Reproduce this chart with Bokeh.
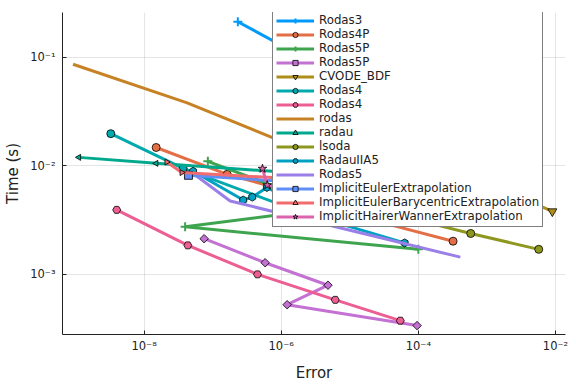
import math
from bokeh.plotting import figure
from bokeh.models import Range1d, FixedTicker, Legend, LegendItem, CustomJSTickFormatter
from bokeh.embed import file_html
from bokeh.resources import INLINE

FONT = "DejaVu Sans"

# ---- data (error, time) ----
rodas3_err = [2.33e-7, 1.89e-6, 1.99e-5, 2.09e-4]
rodas3_time = [0.213, 0.104, 0.045, 0.0194]

rodas4p_err = [1.50e-8, 1.63e-7, 2.65e-6, 2.36e-5, 3.21e-4]
rodas4p_time = [0.01476, 0.00836, 0.00515, 0.00311, 0.00202]

rodas5p_a_err = [8.51e-8, 5.56e-6, 3.97e-8, 1.0e-4]
rodas5p_a_time = [0.0110, 0.00409, 0.00274, 0.00170]

rodas5p_b_err = [7.52e-8, 5.83e-7, 4.81e-6, 1.22e-6, 9.58e-5]
rodas5p_b_time = [0.00213, 0.00128, 0.000794, 0.000525, 0.000337]

cvode_err = [1.07e-4, 1.12e-3, 9.0e-3]
cvode_time = [0.01416, 0.00678, 0.00380]

rodas4_a_err = [3.27e-9, 3.71e-8, 1.89e-6, 5.46e-5]
rodas4_a_time = [0.0198, 0.00948, 0.00376, 0.00311]

rodas4_b_err = [3.99e-9, 4.35e-8, 4.51e-7, 6.14e-6, 5.46e-5]
rodas4_b_time = [0.00393, 0.00185, 0.00100, 0.000582, 0.000374]

rodas_err = [9.2e-10, 4.25e-8, 1.02e-5]
rodas_time = [0.0863, 0.0380, 0.00929]

radau_err = [1.12e-9, 1.50e-8, 5.19e-6]
radau_time = [0.01197, 0.01054, 0.00818]

lsoda_err = [5.19e-6, 1.07e-4, 5.81e-4, 5.70e-3]
lsoda_time = [0.00610, 0.00311, 0.00238, 0.00170]

radauiia5_err = [5.19e-8, 2.79e-7, 3.78e-7, 6.18e-7, 5.19e-6, 6.31e-5]
radauiia5_time = [0.00891, 0.00484, 0.00515, 0.00632, 0.00311, 0.00195]

rodas5_err = [4.70e-8, 1.80e-7, 4.10e-4]
rodas5_time = [0.00891, 0.00474, 0.00144]

iee_err = [4.44e-8, 5.19e-6]
iee_time = [0.00818, 0.00678]

iebe_err = [2.14e-8, 3.55e-8, 7.26e-6]
iebe_time = [0.01084, 0.00867, 0.00721]

ihwe_err = [5.33e-7, 6.25e-7, 5.19e-6]
ihwe_time = [0.00942, 0.00664, 0.00494]

names = ["Rodas3", "Rodas4P", "Rodas5P", "Rodas5P", "CVODE_BDF", "Rodas4", "Rodas4",
         "rodas", "radau", "lsoda", "RadauIIA5", "Rodas5",
         "ImplicitEulerExtrapolation", "ImplicitEulerBarycentricExtrapolation",
         "ImplicitHairerWannerExtrapolation"]

errors = [rodas3_err, rodas4p_err, rodas5p_a_err, rodas5p_b_err, cvode_err, rodas4_a_err,
          rodas4_b_err, rodas_err, radau_err, lsoda_err, radauiia5_err, rodas5_err,
          iee_err, iebe_err, ihwe_err]
times = [rodas3_time, rodas4p_time, rodas5p_a_time, rodas5p_b_time, cvode_time, rodas4_a_time,
         rodas4_b_time, rodas_time, radau_time, lsoda_time, radauiia5_time, rodas5_time,
         iee_time, iebe_time, ihwe_time]

xticks = [1e-8, 1e-6, 1e-4, 1e-2]
xtick_labels = ["10\u207b\u2078", "10\u207b\u2076", "10\u207b\u2074", "10\u207b\u00b2"]
yticks = [1e-3, 1e-2, 1e-1]
ytick_labels = ["10\u207b\u00b3", "10\u207b\u00b2", "10\u207b\u00b9"]

# ---- styles ----
colors = ["#009AFA", "#E36F47", "#3EA44E", "#C371D2", "#AC8E18", "#00A9AD", "#ED5E93",
          "#C68225", "#00A98D", "#8E971E", "#00A2C3", "#9B7FE9", "#618DF6", "#F16C6F",
          "#DC63AD"]
# (marker, size, angle)
markers = [("cross", 9, 0), ("circle", 8, 0), ("cross", 9, 0), ("square", 6, math.pi / 4),
           ("inverted_triangle", 9, 0), ("circle", 8, 0), ("hex", 8, 0), (None, 0, 0),
           ("triangle", 6, math.pi / 2), ("circle", 8, 0), ("hex", 8, math.pi / 2), (None, 0, 0),
           ("square", 8, 0), ("triangle", 6, -math.pi / 2), ("star", 9, 0)]

p = figure(width=576, height=384, x_axis_type="log", y_axis_type="log",
           x_range=Range1d(6.46e-10, 1.40e-2), y_range=Range1d(2.79e-4, 0.259),
           output_backend="svg", toolbar_location=None,
           min_border_left=62, min_border_right=11, min_border_top=12, min_border_bottom=47,
           x_axis_label="Error", y_axis_label="Time (s)")
p.outline_line_color = None
p.background_fill_color = "white"

def fmt(tvals, tlabels):
    return CustomJSTickFormatter(args=dict(tvals=tvals, tlabels=tlabels), code="""
        for (let i = 0; i < tvals.length; i++) {
            if (Math.abs(Math.log10(tvals[i]) - Math.log10(tick)) < 1e-6) return tlabels[i];
        }
        return "";
    """)

p.xaxis.ticker = FixedTicker(ticks=xticks)
p.yaxis.ticker = FixedTicker(ticks=yticks)
p.xaxis.formatter = fmt(xticks, xtick_labels)
p.yaxis.formatter = fmt(yticks, ytick_labels)
for ax in (p.xaxis, p.yaxis):
    ax.major_tick_in = 4
    ax.major_tick_out = 0
    ax.minor_tick_in = 0
    ax.minor_tick_out = 0
    ax.axis_line_color = "#222222"
    ax.major_tick_line_color = "#222222"
    ax.major_label_text_font = FONT
    ax.major_label_text_font_size = "11.5px"
    ax.major_label_text_color = "#222222"
    ax.axis_label_text_font = FONT
    ax.axis_label_text_font_size = "15px"
    ax.axis_label_text_font_style = "normal"
    ax.axis_label_text_color = "#222222"
p.xaxis.major_label_standoff = 4
p.xaxis.axis_label_standoff = 8
p.yaxis.major_label_standoff = 7
p.yaxis.axis_label_standoff = 5
p.grid.grid_line_color = "black"
p.grid.grid_line_alpha = 0.1

items = []
for name, e, t, c, (mk, sz, ang) in zip(names, errors, times, colors, markers):
    rs = [p.line(e, t, line_color=c, line_width=3)]
    if mk is not None:
        if mk == "cross":
            rs.append(p.scatter(e, t, marker=mk, size=sz, line_color=c, line_width=2))
        else:
            rs.append(p.scatter(e, t, marker=mk, size=sz, angle=ang, fill_color=c,
                                line_color="black", line_width=0.8))
    items.append(LegendItem(label=name, renderers=rs))

legend = Legend(items=items, location=(210, 107), label_text_font=FONT,
                label_text_font_size="11.8px", label_text_color="#222222",
                glyph_width=38, glyph_height=13, label_height=13, spacing=0,
                padding=3, label_standoff=5, border_line_color="black",
                border_line_width=1, background_fill_color="white",
                background_fill_alpha=1.0)
p.add_layout(legend)

open("out.html", "w").write(file_html(p, INLINE))
